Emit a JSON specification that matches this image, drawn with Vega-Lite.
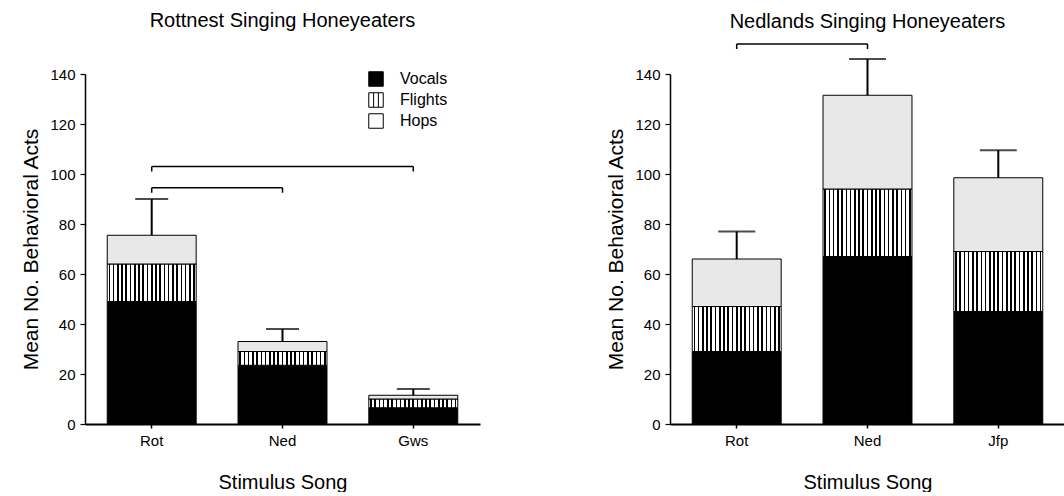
{
  "$schema": "https://vega.github.io/schema/vega-lite/v6.json",
  "background": "white",
  "padding": {"left": 20, "top": 11, "right": 0, "bottom": 0},
  "spacing": 125,
  "config": {
    "font": "Liberation Sans",
    "view": {"stroke": null},
    "axis": {"grid": false, "domainColor": "black", "tickColor": "black", "labelColor": "black", "titleColor": "black", "labelFont": "Liberation Sans", "titleFont": "Liberation Sans", "titleFontWeight": "normal", "labelFontSize": 15, "titleFontSize": 20},
    "title": {"font": "Liberation Sans", "fontSize": 20, "fontWeight": "normal", "color": "black", "anchor": "middle"},
    "legend": {"labelFont": "Liberation Sans", "labelColor": "black"}
  },
  "datasets": {
    "bars": [
      {"panel": "Rottnest", "song": "Rot", "type": "Vocals", "value": 49},
      {"panel": "Rottnest", "song": "Rot", "type": "Flights", "value": 15},
      {"panel": "Rottnest", "song": "Rot", "type": "Hops", "value": 11.5},
      {"panel": "Rottnest", "song": "Ned", "type": "Vocals", "value": 23.5},
      {"panel": "Rottnest", "song": "Ned", "type": "Flights", "value": 5.5},
      {"panel": "Rottnest", "song": "Ned", "type": "Hops", "value": 4},
      {"panel": "Rottnest", "song": "Gws", "type": "Vocals", "value": 6.5},
      {"panel": "Rottnest", "song": "Gws", "type": "Flights", "value": 3.5},
      {"panel": "Rottnest", "song": "Gws", "type": "Hops", "value": 1.5},
      {"panel": "Nedlands", "song": "Rot", "type": "Vocals", "value": 29},
      {"panel": "Nedlands", "song": "Rot", "type": "Flights", "value": 18},
      {"panel": "Nedlands", "song": "Rot", "type": "Hops", "value": 19},
      {"panel": "Nedlands", "song": "Ned", "type": "Vocals", "value": 67},
      {"panel": "Nedlands", "song": "Ned", "type": "Flights", "value": 27},
      {"panel": "Nedlands", "song": "Ned", "type": "Hops", "value": 37.5},
      {"panel": "Nedlands", "song": "Jfp", "type": "Vocals", "value": 45},
      {"panel": "Nedlands", "song": "Jfp", "type": "Flights", "value": 24},
      {"panel": "Nedlands", "song": "Jfp", "type": "Hops", "value": 29.5}
    ],
    "errors": [
      {"panel": "Rottnest", "song": "Rot", "total": 75.5, "upper": 90},
      {"panel": "Rottnest", "song": "Ned", "total": 33, "upper": 38},
      {"panel": "Rottnest", "song": "Gws", "total": 11.5, "upper": 14},
      {"panel": "Nedlands", "song": "Rot", "total": 66, "upper": 77},
      {"panel": "Nedlands", "song": "Ned", "total": 131.5, "upper": 146},
      {"panel": "Nedlands", "song": "Jfp", "total": 98.5, "upper": 109.5}
    ],
    "brackets": [
      {"panel": "Rottnest", "from": "Rot", "to": "Ned", "level": 94.5},
      {"panel": "Rottnest", "from": "Rot", "to": "Gws", "level": 103},
      {"panel": "Nedlands", "from": "Rot", "to": "Ned", "level": 152}
    ],
    "bracketEnds": [
      {"panel": "Rottnest", "song": "Rot", "level": 94.5, "low": 92.5},
      {"panel": "Rottnest", "song": "Ned", "level": 94.5, "low": 92.5},
      {"panel": "Rottnest", "song": "Rot", "level": 103, "low": 101},
      {"panel": "Rottnest", "song": "Gws", "level": 103, "low": 101},
      {"panel": "Nedlands", "song": "Rot", "level": 152, "low": 150},
      {"panel": "Nedlands", "song": "Ned", "level": 152, "low": 150}
    ]
  },
  "hconcat": [
    {
      "title": {"text": "Rottnest Singing Honeyeaters", "offset": 36},
      "width": 395,
      "height": 350,
      "layer": [
        {
          "data": {"name": "bars"},
          "transform": [
            {"filter": "datum.panel === 'Rottnest'"},
            {"calculate": "indexof(['Vocals','Flights','Hops'], datum.type)", "as": "stackOrder"},
            {"stack": "value", "groupby": ["song"], "sort": [{"field": "stackOrder", "order": "ascending"}], "as": ["v0", "v1"]}
          ],
          "encoding": {
            "x": {"field": "song", "type": "nominal", "title": "Stimulus Song",
              "scale": {"domain": ["Rot", "Ned", "Gws"], "paddingInner": 0.32, "paddingOuter": 0.17},
              "axis": {"labelAngle": 0, "tickSize": 4, "tickWidth": 1.5, "domainWidth": 2, "labelPadding": 5, "titlePadding": 24, "labelFontSize": 15}},
            "y": {"field": "v0", "type": "quantitative", "title": "Mean No. Behavioral Acts",
              "scale": {"domain": [0, 140]},
              "axis": {"values": [0, 10, 20, 30, 40, 50, 60, 70, 80, 90, 100, 110, 120, 130, 140],
                "labelExpr": "datum.value % 20 === 0 ? datum.label : ''", "labelOverlap": false,
                "tickSize": {"condition": {"test": "datum.value % 20 === 0", "value": 5}, "value": 3},
                "tickWidth": 1.2, "domainWidth": 1.5, "labelPadding": 5, "titlePadding": 8, "titleFontSize": 21}},
            "y2": {"field": "v1"}
          },
          "layer": [
            {
              "transform": [{"filter": "datum.type === 'Vocals'"}],
              "mark": {"type": "bar", "fill": "black", "stroke": "black", "strokeWidth": 1}
            },
            {
              "transform": [{"filter": "datum.type === 'Flights'"}],
              "mark": {"type": "bar", "stroke": "black", "strokeWidth": 1,
                "fill": {"gradient": "linear", "x1": 0, "y1": 0, "x2": 1, "y2": 0, "stops": [
                  {"offset": 0, "color": "white"},
                  {"offset": 0.0148, "color": "white"}, {"offset": 0.0148, "color": "black"}, {"offset": 0.0329, "color": "black"}, {"offset": 0.0329, "color": "white"},
                  {"offset": 0.0624, "color": "white"}, {"offset": 0.0624, "color": "black"}, {"offset": 0.0805, "color": "black"}, {"offset": 0.0805, "color": "white"},
                  {"offset": 0.1100, "color": "white"}, {"offset": 0.1100, "color": "black"}, {"offset": 0.1281, "color": "black"}, {"offset": 0.1281, "color": "white"},
                  {"offset": 0.1576, "color": "white"}, {"offset": 0.1576, "color": "black"}, {"offset": 0.1757, "color": "black"}, {"offset": 0.1757, "color": "white"},
                  {"offset": 0.2052, "color": "white"}, {"offset": 0.2052, "color": "black"}, {"offset": 0.2233, "color": "black"}, {"offset": 0.2233, "color": "white"},
                  {"offset": 0.2529, "color": "white"}, {"offset": 0.2529, "color": "black"}, {"offset": 0.2710, "color": "black"}, {"offset": 0.2710, "color": "white"},
                  {"offset": 0.3005, "color": "white"}, {"offset": 0.3005, "color": "black"}, {"offset": 0.3186, "color": "black"}, {"offset": 0.3186, "color": "white"},
                  {"offset": 0.3481, "color": "white"}, {"offset": 0.3481, "color": "black"}, {"offset": 0.3662, "color": "black"}, {"offset": 0.3662, "color": "white"},
                  {"offset": 0.3957, "color": "white"}, {"offset": 0.3957, "color": "black"}, {"offset": 0.4138, "color": "black"}, {"offset": 0.4138, "color": "white"},
                  {"offset": 0.4433, "color": "white"}, {"offset": 0.4433, "color": "black"}, {"offset": 0.4614, "color": "black"}, {"offset": 0.4614, "color": "white"},
                  {"offset": 0.4910, "color": "white"}, {"offset": 0.4910, "color": "black"}, {"offset": 0.5090, "color": "black"}, {"offset": 0.5090, "color": "white"},
                  {"offset": 0.5386, "color": "white"}, {"offset": 0.5386, "color": "black"}, {"offset": 0.5567, "color": "black"}, {"offset": 0.5567, "color": "white"},
                  {"offset": 0.5862, "color": "white"}, {"offset": 0.5862, "color": "black"}, {"offset": 0.6043, "color": "black"}, {"offset": 0.6043, "color": "white"},
                  {"offset": 0.6338, "color": "white"}, {"offset": 0.6338, "color": "black"}, {"offset": 0.6519, "color": "black"}, {"offset": 0.6519, "color": "white"},
                  {"offset": 0.6814, "color": "white"}, {"offset": 0.6814, "color": "black"}, {"offset": 0.6995, "color": "black"}, {"offset": 0.6995, "color": "white"},
                  {"offset": 0.7290, "color": "white"}, {"offset": 0.7290, "color": "black"}, {"offset": 0.7471, "color": "black"}, {"offset": 0.7471, "color": "white"},
                  {"offset": 0.7767, "color": "white"}, {"offset": 0.7767, "color": "black"}, {"offset": 0.7948, "color": "black"}, {"offset": 0.7948, "color": "white"},
                  {"offset": 0.8243, "color": "white"}, {"offset": 0.8243, "color": "black"}, {"offset": 0.8424, "color": "black"}, {"offset": 0.8424, "color": "white"},
                  {"offset": 0.8719, "color": "white"}, {"offset": 0.8719, "color": "black"}, {"offset": 0.8900, "color": "black"}, {"offset": 0.8900, "color": "white"},
                  {"offset": 0.9195, "color": "white"}, {"offset": 0.9195, "color": "black"}, {"offset": 0.9376, "color": "black"}, {"offset": 0.9376, "color": "white"},
                  {"offset": 0.9671, "color": "white"}, {"offset": 0.9671, "color": "black"}, {"offset": 0.9852, "color": "black"}, {"offset": 0.9852, "color": "white"},
                  {"offset": 1, "color": "white"}
                ]}}
            },
            {
              "transform": [{"filter": "datum.type === 'Hops'"}],
              "mark": {"type": "bar", "fill": "#e8e8e8", "stroke": "black", "strokeWidth": 1}
            }
          ]
        },
        {
          "data": {"name": "errors"},
          "transform": [{"filter": "datum.panel === 'Rottnest'"}],
          "mark": {"type": "rule", "color": "black", "strokeWidth": 2},
          "encoding": {
            "x": {"field": "song", "type": "nominal"},
            "y": {"field": "total", "type": "quantitative"},
            "y2": {"field": "upper"}
          }
        },
        {
          "data": {"name": "errors"},
          "transform": [{"filter": "datum.panel === 'Rottnest'"}],
          "mark": {"type": "tick", "color": "black", "thickness": 2, "size": 33, "orient": "horizontal"},
          "encoding": {
            "x": {"field": "song", "type": "nominal"},
            "y": {"field": "upper", "type": "quantitative"}
          }
        },
        {
          "data": {"name": "brackets"},
          "transform": [{"filter": "datum.panel === 'Rottnest'"}],
          "mark": {"type": "rule", "color": "black", "strokeWidth": 1.5},
          "encoding": {
            "x": {"field": "from", "type": "nominal"},
            "x2": {"field": "to"},
            "y": {"field": "level", "type": "quantitative"}
          }
        },
        {
          "data": {"name": "bracketEnds"},
          "transform": [{"filter": "datum.panel === 'Rottnest'"}],
          "mark": {"type": "rule", "color": "black", "strokeWidth": 1.5},
          "encoding": {
            "x": {"field": "song", "type": "nominal"},
            "y": {"field": "level", "type": "quantitative"},
            "y2": {"field": "low"}
          }
        },
        {
          "data": {"name": "bars"},
          "transform": [{"filter": "false"}],
          "mark": {"type": "point", "filled": true, "opacity": 1, "stroke": "black", "strokeWidth": 1},
          "encoding": {
            "fill": {"field": "type", "type": "nominal",
              "scale": {"domain": ["Vocals", "Flights", "Hops"], "range": ["black", "white", "white"]},
              "legend": {"title": null, "orient": "none", "legendX": 283, "legendY": -3, "symbolSize": 210,
                "symbolStrokeColor": "black", "symbolStrokeWidth": 1, "labelFontSize": 16, "rowPadding": 1, "labelOffset": 16, "symbolOpacity": 1}},
            "shape": {"field": "type", "type": "nominal",
              "scale": {"domain": ["Vocals", "Flights", "Hops"], "range": ["square", "M-1,-1H1V1H-1Z M-0.33,-1V1 M0.33,-1V1", "square"]}}
          }
        }
      ]
    },
    {
      "title": {"text": "Nedlands Singing Honeyeaters", "offset": 11},
      "width": 395,
      "height": 350,
      "layer": [
        {
          "data": {"name": "bars"},
          "transform": [
            {"filter": "datum.panel === 'Nedlands'"},
            {"calculate": "indexof(['Vocals','Flights','Hops'], datum.type)", "as": "stackOrder"},
            {"stack": "value", "groupby": ["song"], "sort": [{"field": "stackOrder", "order": "ascending"}], "as": ["v0", "v1"]}
          ],
          "encoding": {
            "x": {"field": "song", "type": "nominal", "title": "Stimulus Song",
              "scale": {"domain": ["Rot", "Ned", "Jfp"], "paddingInner": 0.32, "paddingOuter": 0.17},
              "axis": {"labelAngle": 0, "tickSize": 4, "tickWidth": 1.5, "domainWidth": 2, "labelPadding": 5, "titlePadding": 24, "labelFontSize": 15}},
            "y": {"field": "v0", "type": "quantitative", "title": "Mean No. Behavioral Acts",
              "scale": {"domain": [0, 140]},
              "axis": {"values": [0, 10, 20, 30, 40, 50, 60, 70, 80, 90, 100, 110, 120, 130, 140],
                "labelExpr": "datum.value % 20 === 0 ? datum.label : ''", "labelOverlap": false,
                "tickSize": {"condition": {"test": "datum.value % 20 === 0", "value": 5}, "value": 3},
                "tickWidth": 1.2, "domainWidth": 1.5, "labelPadding": 5, "titlePadding": 8, "titleFontSize": 21}},
            "y2": {"field": "v1"}
          },
          "layer": [
            {
              "transform": [{"filter": "datum.type === 'Vocals'"}],
              "mark": {"type": "bar", "fill": "black", "stroke": "black", "strokeWidth": 1}
            },
            {
              "transform": [{"filter": "datum.type === 'Flights'"}],
              "mark": {"type": "bar", "stroke": "black", "strokeWidth": 1,
                "fill": {"gradient": "linear", "x1": 0, "y1": 0, "x2": 1, "y2": 0, "stops": [
                  {"offset": 0, "color": "white"},
                  {"offset": 0.0148, "color": "white"}, {"offset": 0.0148, "color": "black"}, {"offset": 0.0329, "color": "black"}, {"offset": 0.0329, "color": "white"},
                  {"offset": 0.0624, "color": "white"}, {"offset": 0.0624, "color": "black"}, {"offset": 0.0805, "color": "black"}, {"offset": 0.0805, "color": "white"},
                  {"offset": 0.1100, "color": "white"}, {"offset": 0.1100, "color": "black"}, {"offset": 0.1281, "color": "black"}, {"offset": 0.1281, "color": "white"},
                  {"offset": 0.1576, "color": "white"}, {"offset": 0.1576, "color": "black"}, {"offset": 0.1757, "color": "black"}, {"offset": 0.1757, "color": "white"},
                  {"offset": 0.2052, "color": "white"}, {"offset": 0.2052, "color": "black"}, {"offset": 0.2233, "color": "black"}, {"offset": 0.2233, "color": "white"},
                  {"offset": 0.2529, "color": "white"}, {"offset": 0.2529, "color": "black"}, {"offset": 0.2710, "color": "black"}, {"offset": 0.2710, "color": "white"},
                  {"offset": 0.3005, "color": "white"}, {"offset": 0.3005, "color": "black"}, {"offset": 0.3186, "color": "black"}, {"offset": 0.3186, "color": "white"},
                  {"offset": 0.3481, "color": "white"}, {"offset": 0.3481, "color": "black"}, {"offset": 0.3662, "color": "black"}, {"offset": 0.3662, "color": "white"},
                  {"offset": 0.3957, "color": "white"}, {"offset": 0.3957, "color": "black"}, {"offset": 0.4138, "color": "black"}, {"offset": 0.4138, "color": "white"},
                  {"offset": 0.4433, "color": "white"}, {"offset": 0.4433, "color": "black"}, {"offset": 0.4614, "color": "black"}, {"offset": 0.4614, "color": "white"},
                  {"offset": 0.4910, "color": "white"}, {"offset": 0.4910, "color": "black"}, {"offset": 0.5090, "color": "black"}, {"offset": 0.5090, "color": "white"},
                  {"offset": 0.5386, "color": "white"}, {"offset": 0.5386, "color": "black"}, {"offset": 0.5567, "color": "black"}, {"offset": 0.5567, "color": "white"},
                  {"offset": 0.5862, "color": "white"}, {"offset": 0.5862, "color": "black"}, {"offset": 0.6043, "color": "black"}, {"offset": 0.6043, "color": "white"},
                  {"offset": 0.6338, "color": "white"}, {"offset": 0.6338, "color": "black"}, {"offset": 0.6519, "color": "black"}, {"offset": 0.6519, "color": "white"},
                  {"offset": 0.6814, "color": "white"}, {"offset": 0.6814, "color": "black"}, {"offset": 0.6995, "color": "black"}, {"offset": 0.6995, "color": "white"},
                  {"offset": 0.7290, "color": "white"}, {"offset": 0.7290, "color": "black"}, {"offset": 0.7471, "color": "black"}, {"offset": 0.7471, "color": "white"},
                  {"offset": 0.7767, "color": "white"}, {"offset": 0.7767, "color": "black"}, {"offset": 0.7948, "color": "black"}, {"offset": 0.7948, "color": "white"},
                  {"offset": 0.8243, "color": "white"}, {"offset": 0.8243, "color": "black"}, {"offset": 0.8424, "color": "black"}, {"offset": 0.8424, "color": "white"},
                  {"offset": 0.8719, "color": "white"}, {"offset": 0.8719, "color": "black"}, {"offset": 0.8900, "color": "black"}, {"offset": 0.8900, "color": "white"},
                  {"offset": 0.9195, "color": "white"}, {"offset": 0.9195, "color": "black"}, {"offset": 0.9376, "color": "black"}, {"offset": 0.9376, "color": "white"},
                  {"offset": 0.9671, "color": "white"}, {"offset": 0.9671, "color": "black"}, {"offset": 0.9852, "color": "black"}, {"offset": 0.9852, "color": "white"},
                  {"offset": 1, "color": "white"}
                ]}}
            },
            {
              "transform": [{"filter": "datum.type === 'Hops'"}],
              "mark": {"type": "bar", "fill": "#e8e8e8", "stroke": "black", "strokeWidth": 1}
            }
          ]
        },
        {
          "data": {"name": "errors"},
          "transform": [{"filter": "datum.panel === 'Nedlands'"}],
          "mark": {"type": "rule", "color": "black", "strokeWidth": 2},
          "encoding": {
            "x": {"field": "song", "type": "nominal"},
            "y": {"field": "total", "type": "quantitative"},
            "y2": {"field": "upper"}
          }
        },
        {
          "data": {"name": "errors"},
          "transform": [{"filter": "datum.panel === 'Nedlands'"}],
          "mark": {"type": "tick", "color": "black", "thickness": 2, "size": 37, "orient": "horizontal"},
          "encoding": {
            "x": {"field": "song", "type": "nominal"},
            "y": {"field": "upper", "type": "quantitative"}
          }
        },
        {
          "data": {"name": "brackets"},
          "transform": [{"filter": "datum.panel === 'Nedlands'"}],
          "mark": {"type": "rule", "color": "black", "strokeWidth": 1.5},
          "encoding": {
            "x": {"field": "from", "type": "nominal"},
            "x2": {"field": "to"},
            "y": {"field": "level", "type": "quantitative"}
          }
        },
        {
          "data": {"name": "bracketEnds"},
          "transform": [{"filter": "datum.panel === 'Nedlands'"}],
          "mark": {"type": "rule", "color": "black", "strokeWidth": 1.5},
          "encoding": {
            "x": {"field": "song", "type": "nominal"},
            "y": {"field": "level", "type": "quantitative"},
            "y2": {"field": "low"}
          }
        }
      ]
    }
  ]
}
